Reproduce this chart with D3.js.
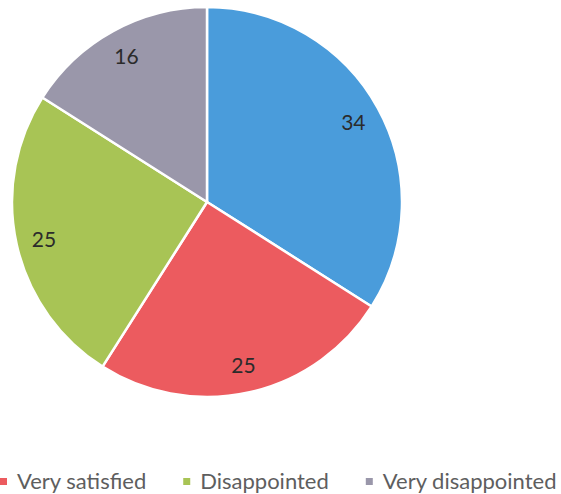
<!DOCTYPE html>
<html>
<head>
<meta charset="utf-8">
<script src="https://cdn.jsdelivr.net/npm/d3@7"></script>
<style>
  html, body { margin: 0; padding: 0; background: #fff; }
  svg { display: block; }
</style>
</head>
<body>
<svg id="chart" width="561" height="494"></svg>
<script>
// Survey responses by satisfaction level
const categories = ["Satisfied", "Very satisfied", "Disappointed", "Very disappointed"];
const values = [34, 25, 25, 16];
const colors = ["#4a9cdb", "#ec5b5f", "#a8c455", "#9a97aa"];
// Entries listed in the legend row
const legendNames = ["Very satisfied", "Disappointed", "Very disappointed"];

const width = 561, height = 494;
const cx = 207, cy = 202, radius = 195, labelRadius = 167;

const svg = d3.select("#chart");

const pie = d3.pie().sort(null).value(d => d.value);
const data = categories.map((c, i) => ({ name: c, value: values[i], color: colors[i] }));
const arcs = pie(data);

const arc = d3.arc().innerRadius(0).outerRadius(radius);
const labelArc = d3.arc().innerRadius(labelRadius).outerRadius(labelRadius);

const g = svg.append("g").attr("transform", `translate(${cx},${cy})`);

g.selectAll("path.slice")
  .data(arcs)
  .join("path")
  .attr("class", "slice")
  .attr("d", arc)
  .attr("fill", d => d.data.color)
  .attr("stroke", "#ffffff")
  .attr("stroke-width", 2.5)
  .attr("stroke-linejoin", "round");

g.selectAll("text.value")
  .data(arcs)
  .join("text")
  .attr("class", "value")
  .attr("transform", d => `translate(${labelArc.centroid(d)})`)
  .attr("text-anchor", "middle")
  .attr("dominant-baseline", "central")
  .attr("font-family", "Lato, 'Open Sans', sans-serif")
  .attr("font-size", 21)
  .attr("fill", "#2b2b2b")
  .text(d => d.data.value);

// Legend row along the bottom edge
const legendData = data.filter(d => legendNames.includes(d.name));
const legend = svg.append("g").attr("class", "legend");
const baseline = 489;
const items = legend.selectAll("g.item")
  .data(legendData)
  .join("g")
  .attr("class", "item");

items.append("rect")
  .attr("width", 7)
  .attr("height", 7)
  .attr("y", baseline - 11)
  .attr("fill", d => d.color);

items.append("text")
  .attr("x", 17)
  .attr("y", baseline)
  .attr("font-family", "Lato, 'Open Sans', sans-serif")
  .attr("font-size", 22)
  .attr("fill", "#5e5e5e")
  .text(d => d.name);

const itemGap = 37;
const xs = [];
let acc = 0;
items.each(function () {
  xs.push(acc);
  acc += 17 + d3.select(this).select("text").node().getComputedTextLength() + itemGap;
});
items.attr("transform", (d, i) => `translate(${xs[i]},0)`);
</script>
</body>
</html>
